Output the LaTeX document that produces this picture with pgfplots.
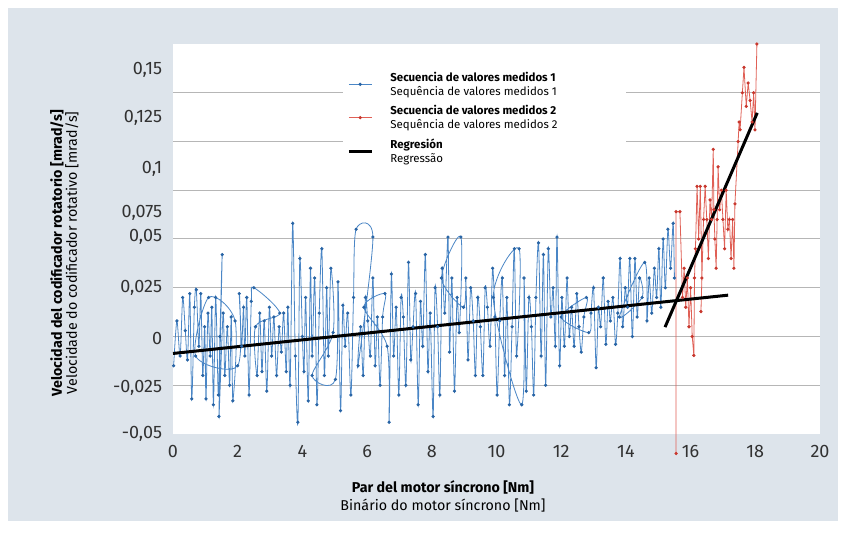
\documentclass[border=0pt]{standalone}
\usepackage{pgfplots}
\pgfplotsset{compat=1.18}
\usepackage{fontspec}
\setmainfont{Fira Sans}
\definecolor{bgc}{RGB}{221,228,235}
\definecolor{gridc}{RGB}{182,182,182}
\definecolor{blueL}{RGB}{74,134,198}
\definecolor{blueM}{RGB}{40,100,165}
\definecolor{redL}{RGB}{224,96,86}
\definecolor{redM}{RGB}{200,55,45}
\definecolor{txt}{RGB}{50,50,50}
\begin{document}
\begin{tikzpicture}
\fill[white] (0,0) rectangle (639.75pt,401.25pt);
\fill[bgc] (6pt,10.5pt) rectangle (628.5pt,395.25pt);
\begin{axis}[at={(129.75pt,75.75pt)}, anchor=south west, scale only axis,
 width=485.25pt, height=292.5pt,
 xmin=0, xmax=20, ymin=-0.05, ymax=0.15, clip=false,
 axis background/.style={fill=white},
 axis line style={draw=none}, major tick length=0pt,
 xtick={0,2,...,20}, xticklabels={0,2,4,6,8,10,12,14,16,18,20},
 ytick={-0.05,-0.0262,-0.001,0.0251,0.0513,0.0636,0.0862,0.1123,0.1369},
 yticklabels={{-0,05},{-0,025},0,{0,025},{0,05},{0,075},{0,1},{0,125},{0,15}},
 extra y ticks={-0.025,0,0.025,0.05,0.075,0.1,0.125},
 extra y tick labels={},
 extra y tick style={grid=major},
 major grid style={gridc, line width=0.75pt},
 tick label style={font=\fontsize{13.5}{15}\selectfont, text=txt},
 yticklabel style={inner sep=0pt, xshift=-8pt},
 xticklabel style={inner sep=0pt, yshift=-8pt},
 legend style={at={(0.2628,0.946)}, anchor=north west, fill=white, draw=none,
   inner xsep=3pt, inner ysep=3pt, row sep=7.5pt,
   font=\fontsize{8.6}{10.7}\selectfont, text=black,
   /tikz/every odd column/.append style={column sep=11pt}},
 legend cell align=left,
 legend image post style={yshift=-2.5pt},
]
\addplot[blueL, line width=0.6pt, smooth, tension=0.5, mark=*, mark size=0.9pt,
  mark options={fill=blueM, draw=blueM}] coordinates {
(0.02,-0.015) (0.12,0.008) (0.22,-0.01) (0.3,0.02) (0.38,0.003) (0.45,-0.012) (0.52,0.022) (0.58,-0.032) (0.66,0.015) (0.72,0.024)
(0.8,-0.005) (0.86,0.022) (0.92,-0.02) (0.98,0.005) (1.02,-0.032) (1.08,0.012) (1.15,-0.01) (1.2,0.015) (1.25,-0.035) (1.32,0.02)
(1.4,-0.03) (1.45,0.0) (1.52,0.042) (1.42,-0.041) (1.55,0.012) (1.6,-0.02) (1.68,0.005) (1.75,-0.025) (1.8,0.01) (1.85,-0.033)
(1.92,0.008) (1.1,0.02) (0.7,-0.01) (2.0,-0.015) (2.05,0.022) (2.12,-0.005) (2.18,0.015) (2.22,-0.01) (2.28,0.02) (2.35,-0.03) (2.42,0.018) (2.5,0.025)
(3.3,0.012) (2.55,0.005) (2.6,-0.02) (2.68,0.012) (2.75,-0.018) (2.82,0.008) (2.9,-0.028) (2.98,0.015) (3.05,-0.01) (3.12,0.01) (3.2,-0.02)
(3.28,0.005) (3.35,-0.008) (3.42,0.012) (3.5,-0.018) (3.55,0.015) (3.62,-0.025) (3.7,0.058) (3.78,-0.01) (3.86,-0.044) (3.92,0.04)
(4.0,0.0) (4.05,-0.018) (4.1,0.02) (4.18,-0.033) (4.25,0.035) (4.3,-0.01) (4.38,0.03) (4.45,-0.035) (4.52,0.012) (4.6,0.045)
(4.68,-0.02) (4.75,0.025) (4.8,-0.01) (4.88,0.035) (4.95,0.002) (4.3,-0.02) (5.02,-0.022) (5.1,0.028) (5.18,-0.038) (5.25,0.016) (5.32,-0.005)
(5.4,0.012) (5.5,-0.03) (5.58,0.02) (5.66,0.055) (6.18,0.051) (5.72,-0.015) (5.8,0.005) (5.88,-0.02) (5.95,0.02) (6.02,0.008) (6.1,-0.01)
(6.18,0.03) (6.25,-0.015) (6.32,0.01) (6.4,-0.025) (6.48,0.01) (6.55,0.022) (5.9,0.015) (6.62,-0.005) (6.68,-0.044) (6.75,0.032) (6.82,-0.01)
(6.9,0.015) (6.98,-0.03) (7.05,0.02) (7.12,0.01) (7.2,-0.025) (7.28,0.038) (7.35,-0.012) (7.42,0.005) (7.5,0.022) (7.58,-0.035)
(7.65,0.018) (7.72,-0.005) (7.8,0.042) (7.88,-0.018) (7.95,0.012) (8.04,-0.041) (8.1,0.025) (8.18,0.005) (8.25,-0.03) (8.32,0.035)
(8.4,0.012) (8.5,0.051) (8.55,-0.008) (8.62,0.03) (8.7,-0.028) (8.78,0.02) (8.85,0.002) (8.9,0.051) (8.3,0.03) (8.98,0.015) (9.05,0.03)
(9.12,-0.012) (9.2,0.025) (9.28,0.008) (9.35,-0.02) (9.42,0.02) (9.5,0.005) (9.58,-0.02) (9.65,0.025) (9.72,0.015) (9.8,-0.005)
(9.88,0.035) (9.95,0.01) (10.02,-0.03) (10.1,0.008) (10.18,0.03) (10.25,-0.02) (10.32,0.02) (10.4,-0.035) (10.48,0.005) (10.55,0.045)
(10.62,-0.01) (10.7,0.045) (9.9,0.02) (10.78,-0.035) (10.85,0.03) (10.92,-0.028) (11.0,0.02) (11.08,0.005) (11.15,-0.03) (11.22,0.02) (11.3,0.048)
(11.38,-0.01) (11.45,0.042) (11.52,-0.025) (11.6,0.045) (11.68,0.01) (11.75,0.025) (11.82,-0.005) (11.87,0.051) (11.95,-0.015) (12.02,0.02)
(12.1,-0.005) (12.18,0.03) (12.25,0.0) (12.32,0.015) (12.4,-0.005) (12.48,0.022) (12.55,0.005) (12.62,-0.008) (12.7,0.01) (12.78,0.02)
(12.0,0.01) (12.85,0.002) (12.92,0.012) (13.0,0.025) (13.08,-0.016) (13.15,0.015) (13.22,0.005) (13.3,0.03) (13.38,-0.004) (13.45,0.018) (13.52,0.008)
(13.6,0.02) (13.68,-0.004) (13.75,0.012) (13.82,0.04) (13.9,0.005) (13.98,0.025) (14.05,0.015) (14.12,0.04) (14.2,0.0) (14.28,0.04)
(14.35,0.01) (14.42,0.03) (14.5,0.02) (13.8,0.01) (14.58,0.038) (14.65,0.008) (14.72,0.03) (14.8,0.012) (14.88,0.035) (14.95,0.02) (15.02,0.045)
(15.08,0.015) (15.15,0.05) (15.22,0.025) (15.3,0.055) (15.38,0.035) (15.46,0.058) (15.5,0.03)
};
\addlegendentry{\parbox{172pt}{\textbf{Secuencia de valores medidos 1}\\Sequência de valores medidos 1}}
\addplot[redL, line width=0.6pt, mark=*, mark size=0.9pt,
  mark options={fill=redM, draw=redM}] coordinates {
(15.55,-0.06) (15.55,0.064) (15.67,0.064) (15.75,0.02) (15.8,0.035) (15.85,0.015) (15.9,0.03) (15.95,0.005) (16.0,0.025) (16.05,0.0)
(16.1,-0.0097) (16.12,0.03) (16.15,0.045) (16.2,0.077) (16.25,0.05) (16.3,0.077) (16.35,0.03) (16.32,0.0128) (16.4,0.06) (16.45,0.077)
(16.5,0.06) (16.55,0.04) (16.6,0.07) (16.65,0.06) (16.7,0.096) (16.72,0.065) (16.75,0.05) (16.79,0.035) (16.82,0.06) (16.85,0.087)
(16.9,0.065) (16.95,0.075) (17.0,0.06) (17.05,0.045) (17.1,0.075) (17.15,0.055) (17.2,0.06) (17.25,0.04) (17.3,0.06) (17.34,0.035)
(17.37,0.068) (17.47,0.10) (17.5,0.11) (17.53,0.106) (17.6,0.125) (17.65,0.138) (17.72,0.118) (17.78,0.13) (17.84,0.121) (17.9,0.11)
(17.95,0.125) (17.99,0.106) (18.05,0.15)
};
\addlegendentry{\parbox{172pt}{\textbf{Secuencia de valores medidos 2}\\Sequência de valores medidos 2}}
\addplot[black, line width=2.25pt] coordinates {(0,-0.0087) (17.16,0.0212)};
\addlegendentry{\parbox{172pt}{\textbf{Regresión}\\Regressão}}
\addplot[black, line width=2.25pt, forget plot] coordinates {(15.21,0.0048) (18.06,0.1147)};
\end{axis}
\node[font=\fontsize{10.7}{12}\bfseries, text=black] at (332.25pt,36pt) {Par del motor síncrono [Nm]};
\node[font=\fontsize{10.7}{12}\selectfont, text=black] at (332.25pt,21.75pt) {Binário do motor síncrono [Nm]};
\node[font=\fontsize{10.7}{12}\bfseries, text=black, rotate=90] at (42.75pt,211.5pt) {Velocidad del codificador rotatorio [mrad/s]};
\node[font=\fontsize{10.7}{12}\selectfont, text=black, rotate=90] at (54pt,211.5pt) {Velocidade do codificador rotativo [mrad/s]};
\end{tikzpicture}
\end{document}
